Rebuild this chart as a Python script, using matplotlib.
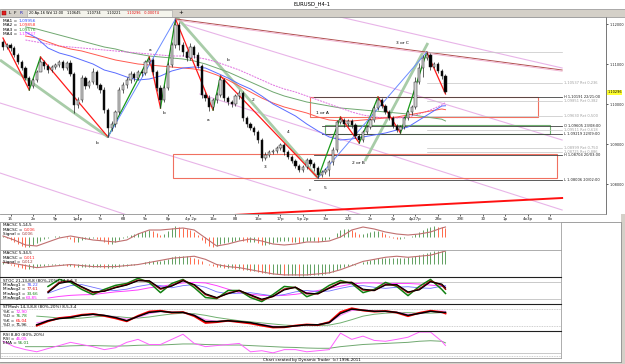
import matplotlib.pyplot as plt
import numpy as np
from matplotlib.patches import Rectangle

nan = np.nan

# ---------------- H4 candles ----------------
opens = [1.1155, 1.11425, 1.11475, 1.114, 1.11225, 1.1105, 1.109, 1.1065, 1.1045, 1.106,
         1.108, 1.1105, 1.1095, 1.1085, 1.10925, 1.10975, 1.1105, 1.109, 1.11025, 1.1075,
         1.09975, 1.101, 1.1065, 1.1045, 1.1055, 1.108, 1.10475, 1.1035, 1.0985, 1.094,
         1.095, 1.098, 1.1035, 1.10475, 1.106, 1.1075, 1.1065, 1.108, 1.10775, 1.1105,
         1.111, 1.108, 1.104, 1.101, 1.104, 1.10975, 1.11475, 1.11975, 1.11475, 1.113,
         1.1115, 1.11425, 1.11225, 1.1095, 1.10225, 1.1015, 1.09925, 1.101, 1.10225, 1.106,
         1.1015, 1.1005, 1.1, 1.102, 1.10275, 1.0965, 1.095, 1.094, 1.093, 1.091,
         1.0865, 1.08725, 1.088, 1.08825, 1.089, 1.08975, 1.088, 1.08675, 1.08575, 1.0845,
         1.0835, 1.08425, 1.086, 1.085, 1.084, 1.08225, 1.083, 1.0835, 1.0855, 1.0885,
         1.0955, 1.096, 1.095, 1.09575, 1.09475, 1.092, 1.091, 1.093, 1.09425, 1.096,
         1.099, 1.101, 1.0995, 1.098, 1.0965, 1.0945, 1.0935, 1.09425, 1.0965, 1.098,
         1.09925, 1.1055, 1.109, 1.1115, 1.11225, 1.10925, 1.11, 1.10825, 1.107]
highs = [1.116, 1.11525, 1.11525, 1.1145, 1.11275, 1.111, 1.1095, 1.107, 1.1065, 1.1085,
         1.11175, 1.111, 1.11, 1.10975, 1.11025, 1.111, 1.111, 1.11075, 1.111, 1.108,
         1.10175, 1.10725, 1.107, 1.106, 1.109, 1.1085, 1.10525, 1.10425, 1.099, 1.09575,
         1.0985, 1.10425, 1.1055, 1.10675, 1.10825, 1.108, 1.1085, 1.10875, 1.111, 1.11175,
         1.1115, 1.1085, 1.10475, 1.10475, 1.1105, 1.1155, 1.12125, 1.1205, 1.1155, 1.1135,
         1.11525, 1.11475, 1.113, 1.11, 1.103, 1.10225, 1.1015, 1.103, 1.107, 1.1065,
         1.102, 1.101, 1.1025, 1.1035, 1.10325, 1.097, 1.0955, 1.0945, 1.0935, 1.0915,
         1.088, 1.0885, 1.08875, 1.0895, 1.09025, 1.09025, 1.0885, 1.08725, 1.08625, 1.085,
         1.08475, 1.0865, 1.0865, 1.0855, 1.0845, 1.0835, 1.084, 1.086, 1.08925, 1.096,
         1.09675, 1.0965, 1.09625, 1.09625, 1.09525, 1.0925, 1.0935, 1.09475, 1.0965, 1.09975,
         1.10175, 1.1015, 1.1, 1.0985, 1.097, 1.095, 1.09475, 1.097, 1.0985, 1.09975,
         1.10675, 1.11025, 1.11225, 1.113, 1.11275, 1.1105, 1.1105, 1.10875, 1.1075]
lows = [1.1135, 1.11375, 1.11325, 1.11175, 1.11, 1.1085, 1.106, 1.1035, 1.104, 1.1055,
        1.11, 1.10875, 1.10775, 1.108, 1.10875, 1.10925, 1.1085, 1.1085, 1.107, 1.09775,
        1.099, 1.1005, 1.10375, 1.104, 1.105, 1.104, 1.10275, 1.09775, 1.09175, 1.09325,
        1.09425, 1.0975, 1.10275, 1.104, 1.10525, 1.10575, 1.106, 1.107, 1.10725, 1.11,
        1.10725, 1.10325, 1.099, 1.1005, 1.1035, 1.10925, 1.114, 1.1135, 1.112, 1.11075,
        1.111, 1.1115, 1.109, 1.1015, 1.10075, 1.09825, 1.0985, 1.10025, 1.10175, 1.10075,
        1.09975, 1.09925, 1.0995, 1.10125, 1.09575, 1.09425, 1.0935, 1.09225, 1.09025, 1.08575,
        1.086, 1.08675, 1.0875, 1.08775, 1.0885, 1.08725, 1.08625, 1.08525, 1.084, 1.083,
        1.083, 1.08375, 1.0845, 1.08325, 1.0815, 1.08175, 1.0825, 1.082, 1.08475, 1.088,
        1.095, 1.09425, 1.0945, 1.094, 1.0915, 1.09025, 1.0905, 1.0925, 1.09375, 1.0955,
        1.0985, 1.099, 1.0975, 1.096, 1.094, 1.093, 1.09275, 1.09375, 1.096, 1.09725,
        1.09875, 1.105, 1.10675, 1.111, 1.1085, 1.109, 1.10775, 1.10625, 1.10275]
closes = [1.11425, 1.11475, 1.114, 1.11225, 1.1105, 1.109, 1.1065, 1.1045, 1.106, 1.108,
          1.1105, 1.1095, 1.1085, 1.10925, 1.10975, 1.1105, 1.109, 1.11025, 1.1075, 1.09975,
          1.101, 1.1065, 1.1045, 1.1055, 1.108, 1.10475, 1.1035, 1.0985, 1.094, 1.095,
          1.098, 1.1035, 1.10475, 1.106, 1.1075, 1.1065, 1.108, 1.10775, 1.1105, 1.111,
          1.108, 1.104, 1.101, 1.104, 1.10975, 1.11475, 1.11975, 1.11475, 1.113, 1.1115,
          1.11425, 1.11225, 1.1095, 1.10225, 1.1015, 1.09925, 1.101, 1.10225, 1.106, 1.1015,
          1.1005, 1.1, 1.102, 1.10275, 1.0965, 1.095, 1.094, 1.093, 1.091, 1.0865,
          1.08725, 1.088, 1.08825, 1.089, 1.08975, 1.088, 1.08675, 1.08575, 1.0845, 1.0835,
          1.08425, 1.086, 1.085, 1.084, 1.08225, 1.083, 1.0835, 1.0855, 1.0885, 1.0955,
          1.096, 1.095, 1.09575, 1.09475, 1.092, 1.091, 1.093, 1.09425, 1.096, 1.099,
          1.101, 1.0995, 1.098, 1.0965, 1.0945, 1.0935, 1.09425, 1.0965, 1.098, 1.09925,
          1.1055, 1.109, 1.1115, 1.11225, 1.10925, 1.11, 1.10825, 1.107, 1.10296]

# moving averages / oscillator lines, sampled every 3rd candle
line_idx = list(range(0, 118, 3)) + [118]
ma1 = [nan, nan, 1.118, 1.1165, 1.114, 1.11275, 1.112, 1.111, 1.11, 1.1085, 1.10775, 1.10675, 1.106,
       1.10625, 1.107, 1.10825, 1.109, 1.10925, 1.109, 1.10775, 1.1065, 1.105, 1.10375, 1.102, 1.1,
       1.0985, 1.097, 1.095, 1.09325, 1.09175, 1.091, 1.09125, 1.09175, 1.09225, 1.09275, 1.0935,
       1.09425, 1.096, 1.09775, 1.0995, 1.09956]
ma2 = [nan, nan, 1.117, 1.1165, 1.1155, 1.1145, 1.11375, 1.11325, 1.1125, 1.11175, 1.111, 1.1105, 1.11,
       1.10975, 1.1095, 1.10925, 1.109, 1.10875, 1.10825, 1.10725, 1.106, 1.1045, 1.103, 1.1015, 1.10025,
       1.09925, 1.0985, 1.09775, 1.09675, 1.096, 1.09575, 1.09575, 1.096, 1.09625, 1.0965, 1.09675,
       1.09725, 1.09775, 1.09825, 1.09875, 1.09858]
ma3 = [nan, nan, 1.11925, 1.11875, 1.118, 1.11725, 1.1165, 1.11575, 1.115, 1.11425, 1.11375, 1.113,
       1.1125, 1.112, 1.11175, 1.1115, 1.11125, 1.11075, 1.11, 1.109, 1.108, 1.10675, 1.1055, 1.10425,
       1.103, 1.102, 1.10125, 1.1005, 1.1, 1.0995, 1.099, 1.09875, 1.0985, 1.09825, 1.098, 1.09775,
       1.0975, 1.097, 1.0966, 1.0962, 1.09576]
ma4 = [nan, nan, 1.116, 1.1155, 1.115, 1.1145, 1.11425, 1.114, 1.11375, 1.1135, 1.11325, 1.113,
       1.11275, 1.1125, 1.11225, 1.112, 1.112, 1.11175, 1.11125, 1.1105, 1.1095, 1.1085, 1.10725,
       1.106, 1.10475, 1.10375, 1.103, 1.102, 1.101, 1.1, 1.099, 1.098, 1.09725, 1.09675, 1.0965,
       1.0965, 1.09675, 1.0975, 1.0985, 1.09975, 1.10037]
ma_texts = ['1,09956', '1,09858', '1,09576', '1,10037']

macd1_hist = [0.0006, -0.0006, -0.0018, -0.003, -0.0042, -0.0054, -0.006, -0.006, -0.0048, -0.0036,
              -0.0024, -0.0012, -0.0006, 0.0, 0.0006, 0.0006, 0.0, -0.0006, -0.0012, -0.003,
              -0.003, -0.0018, -0.0012, -0.0012, -0.0006, -0.0012, -0.0018, -0.003, -0.0042, -0.0042,
              -0.003, -0.0018, -0.0006, 0.0006, 0.0012, 0.0018, 0.0024, 0.003, 0.0036, 0.0042,
              0.0036, 0.0024, 0.0012, 0.0018, 0.0036, 0.0054, 0.0066, 0.006, 0.0054, 0.0048,
              0.0042, 0.003, 0.0012, -0.0018, -0.0036, -0.0054, -0.006, -0.0054, -0.0042, -0.0036,
              -0.003, -0.003, -0.0024, -0.0018, -0.0024, -0.003, -0.003, -0.003, -0.0036, -0.0048,
              -0.0048, -0.0042, -0.0036, -0.003, -0.0024, -0.0024, -0.0024, -0.003, -0.003, -0.0036,
              -0.003, -0.0024, -0.0024, -0.0024, -0.003, -0.0024, -0.0018, -0.0012, 0.0, 0.0024,
              0.0042, 0.0048, 0.0048, 0.0042, 0.003, 0.0018, 0.0018, 0.0024, 0.003, 0.0036,
              0.0036, 0.003, 0.0018, 0.0006, -0.0006, -0.0012, -0.0012, -0.0006, 0.0, 0.0006,
              0.0018, 0.003, 0.0042, 0.0054, 0.006, 0.0066, 0.0063, 0.006, 0.0057]
macd1_sig = [0.0006, -0.0018, -0.0048, -0.0054, -0.003, -0.0006, 0.0006, -0.0006, -0.0018, -0.0024,
             -0.003, -0.0018, 0.0018, 0.0042, 0.0042, 0.0048, 0.0054, 0.0042, -0.0006, -0.0054,
             -0.0042, -0.0024, -0.0012, -0.0024, -0.0042, -0.0048, -0.0042, -0.003, -0.003, -0.0024,
             0.0, 0.0042, 0.006, 0.0048, 0.003, 0.0018, 0.0012, 0.0018, 0.003, 0.0054, 0.006]

macd2_hist = [0.0009, 0.0, -0.0009, -0.0018, -0.0027, -0.0036, -0.0045, -0.0045, -0.0036, -0.0027,
              -0.0018, -0.0018, -0.0009, -0.0009, -0.0009, -0.0009, -0.0009, -0.0018, -0.0018, -0.0027,
              -0.0027, -0.0027, -0.0027, -0.0027, -0.0027, -0.0027, -0.0027, -0.0036, -0.0036, -0.0036,
              -0.0027, -0.0027, -0.0018, -0.0018, -0.0009, -0.0009, 0.0, 0.0, 0.0009, 0.0018,
              0.0018, 0.0018, 0.0018, 0.0027, 0.0036, 0.0054, 0.0063, 0.0063, 0.0063, 0.0063,
              0.0054, 0.0045, 0.0036, 0.0018, 0.0, -0.0009, -0.0018, -0.0027, -0.0027, -0.0036,
              -0.0036, -0.0036, -0.0045, -0.0045, -0.0054, -0.0054, -0.0063, -0.0063, -0.0072, -0.0081,
              -0.0081, -0.009, -0.009, -0.009, -0.009, -0.0099, -0.0099, -0.0099, -0.0099, -0.0108,
              -0.0108, -0.0099, -0.0099, -0.0099, -0.0099, -0.0099, -0.009, -0.0081, -0.0072, -0.0054,
              -0.0036, -0.0027, -0.0018, -0.0009, -0.0009, 0.0, 0.0009, 0.0018, 0.0027, 0.0036,
              0.0045, 0.0045, 0.0045, 0.0045, 0.0045, 0.0045, 0.0045, 0.0045, 0.0054, 0.0054,
              0.0063, 0.0072, 0.0081, 0.009, 0.0099, 0.0108, 0.0108, 0.0108, 0.0108]
macd2_sig = [0.0009, 0.0, -0.0018, -0.0036, -0.0027, -0.0018, -0.0009, -0.0018, -0.0027, -0.0027,
             -0.0027, -0.0018, -0.0009, 0.0009, 0.0027, 0.0045, 0.0054, 0.0063, 0.0036, -0.0009,
             -0.0027, -0.0036, -0.0054, -0.0072, -0.009, -0.0099, -0.0099, -0.0099, -0.009, -0.0081,
             -0.0054, -0.0018, 0.0018, 0.0036, 0.0054, 0.0063, 0.0054, 0.0063, 0.0072, 0.0099, 0.0108]

stoc_green = [nan, nan, nan, nan, 65, 91, 80, 54, 35, 54, 69, 76, 95, 80, 42, 76, 91, 61, 24, 20,
              50, 50, 24, 9, 35, 65, 61, 27, 42, 69, 87, 76, 42, 54, 80, 65, 31, 65, 91, 54, 39]
stoc_maroon = [nan, nan, nan, nan, 45, 80, 85, 62, 42, 48, 62, 72, 88, 85, 55, 68, 88, 70, 35, 22,
               40, 50, 32, 15, 28, 55, 62, 38, 38, 60, 80, 80, 52, 50, 72, 70, 42, 55, 85, 70, 55]
stoc_black = [nan, nan, nan, nan, 42, 76, 84, 64, 45, 47, 60, 70, 86, 86, 58, 66, 86, 72, 38, 24,
              38, 50, 34, 18, 28, 52, 62, 40, 38, 58, 78, 80, 55, 50, 70, 72, 45, 52, 82, 74, 60]
stoc_blue = [nan, nan, nan, nan, 40, 55, 68, 72, 62, 52, 50, 55, 65, 72, 68, 60, 68, 72, 62, 45,
             38, 40, 42, 36, 30, 35, 45, 50, 46, 48, 58, 66, 68, 62, 58, 62, 64, 60, 58, 66, 68]
stoc_magenta = [nan, nan, nan, nan, 22, 28, 32, 34, 35, 40, 45, 48, 52, 60, 65, 72, 78, 80, 78, 68,
                55, 42, 36, 32, 30, 32, 36, 42, 50, 58, 66, 74, 78, 78, 76, 76, 76, 74, 70, 66, 64]

stm_black = [nan, nan, nan, 23, 38, 46, 50, 58, 62, 58, 50, 38, 54, 69, 73, 69, 69, 58, 35, 35,
             38, 35, 31, 23, 15, 15, 19, 23, 23, 31, 65, 81, 77, 73, 73, 69, 58, 65, 73, 69, 69]
stm_red = [nan, nan, nan, 20, 36, 48, 52, 60, 63, 56, 47, 36, 56, 72, 75, 68, 70, 55, 30, 33,
           38, 33, 28, 20, 13, 14, 20, 24, 22, 33, 70, 84, 76, 72, 74, 68, 55, 67, 75, 70, 65]
stm_green = [nan, nan, nan, 55, 52, 48, 46, 48, 52, 55, 54, 50, 48, 52, 58, 63, 66, 64, 58, 50,
             44, 38, 34, 30, 26, 22, 20, 20, 20, 22, 30, 42, 55, 62, 66, 68, 68, 66, 66, 68, 70]
stm_pink = [nan, nan, nan, 30, 40, 48, 54, 58, 60, 58, 52, 44, 50, 64, 72, 70, 68, 60, 42, 36,
            36, 34, 30, 25, 18, 16, 18, 22, 24, 30, 58, 76, 78, 75, 72, 70, 62, 64, 72, 74, 73]

rsi = [62, 42, 31, 23, 35, 46, 58, 50, 42, 31, 38, 58, 69, 50, 50, 69, 88, 54, 42, 46,
       50, 54, 23, 27, 19, 31, 31, 23, 27, 31, 92, 69, 81, 65, 62, 69, 77, 96, 96, 62, 46]
rsi_ema = [nan, nan, 42, 42, 42, 43, 45, 46, 46, 45, 44, 45, 47, 48, 48, 50, 52, 52, 50, 49,
           48, 48, 46, 44, 42, 40, 39, 37, 36, 36, 42, 46, 50, 52, 54, 56, 58, 62, 64, 62, 56]

# zigzag pivots (candle index, price)
zigzag = [(0, 1.1165), (7, 1.1035), (10, 1.11175), (28, 1.09175), (39, 1.11175), (42, 1.099),
          (46, 1.12125), (56, 1.0985), (58, 1.107), (84, 1.0815), (90, 1.09675), (95, 1.09025),
          (100, 1.10175), (106, 1.09275), (113, 1.113), (118, 1.1025)]
blue_legs = [((28, 1.09175), (46, 1.12125)), ((84, 1.0815), (113, 1.113))]
pink_lines = [((-0.8, 1.10025), (96, 1.0722)), ((-0.8, 1.08275), (34.7, 1.07175)),
              ((52.5, 1.1025), (149.1, 1.0735)), ((47.2, 1.12025), (149.1, 1.091)),
              ((89.9, 1.12175), (149.1, 1.109))]
green_bands = [((-0.8, 1.111), (28, 1.09175)), ((46.1, 1.122), (84, 1.0815)),
               ((96.5, 1.08575), (113.3, 1.11525))]
brown_line = ((46.1, 1.12125), (149.1, 1.1085))
red_base = ((51.2, 1.07175), (149.1, 1.0765))

# boxes: (i0, i1, p0, p1)
box_a = (81.9, 142.7, 1.09675, 1.10175)
box_g = (85.9, 145.9, 1.0925, 1.09475)
box_b = (45.3, 147.7, 1.0815, 1.0875)

level_prices = [1.113, 1.10525, 1.10175, 1.10075, 1.097, 1.0945, 1.0935, 1.0925, 1.089, 1.088, 1.08725, 1.081]
level_starts = [113, 113, 83, 113, 113, 85, 113, 85, 113, 113, 83, 83]
level_texts = ['', '1,10537 Ret 0,236', 'H 1,10191 22/21:00', '1,09851 Ret 0,382', '1,09630 Ret 0,500',
               'O 1,09605 23/08:00', '1,09511 Ret 0,618', 'L 1,09219 22/09:00', '1,08999 Ret 0,750',
               '1,08725 Ret 0,886', 'H 1,08704 20/03:00', 'L 1,08006 20/02:00']
level_dark = [False, False, True, False, False, True, False, True, False, False, True, True]

wave_labels = [(25.1, 1.09025, 'b'), (39.2, 1.1135, 'a'), (42.9, 1.09775, 'b'), (54.7, 1.096, 'a'),
               (60, 1.111, 'b'), (60, 1.101, '1'), (66.7, 1.101, '2'), (69.9, 1.08425, '3'),
               (76, 1.093, '4'), (81.9, 1.0785, 'c'), (85.9, 1.079, '5'),
               (85.1, 1.09775, '1 or A'), (94.7, 1.08525, '2 or B'), (106.4, 1.11525, '3 or C')]

price_ticks = [1.08, 1.09, 1.10, 1.11, 1.12]
date_idx = list(range(2, 147, 6))
date_labels = ['15', '2o', '9p', '1p4p', '7o', '6B', '9o', '8p', '4p 2p', '16o', '8B', '16o', '17p',
               '5p 2p', '3io', '22E', '2o', '2p', '4p27p', '28o', '29E', '30', '1p', '4o3p', '8o']

bar_info = ['20-Ap-16 Wd 12:00', '1,10645', '1,10734', '1,10221', '1,10296', '-0,00074']

# ---------------- layout helpers ----------------
W, H = 625, 364


def box(x0, y0, x1, y1):
    return [x0 / W, 1 - y1 / H, (x1 - x0) / W, (y1 - y0) / H]


fig = plt.figure(figsize=(6.25, 3.64), dpi=100)
fig.patch.set_facecolor('white')

bg = fig.add_axes([0, 0, 1, 1], zorder=-5)
bg.set_xlim(0, W)
bg.set_ylim(H, 0)
bg.axis('off')
bg.add_patch(Rectangle((0, 9), W, 8, fc='#d4d0c8', ec='#909090', lw=0.5))
bg.add_patch(Rectangle((621, 214), 4, 150, fc='#d4d0c8', ec='none'))
bg.add_patch(Rectangle((0, 362), W, 2, fc='#d4d0c8', ec='none'))
bg.add_patch(Rectangle((2, 11), 4, 4, fc='#e02020', ec='#800000', lw=0.3))
bg.add_patch(Rectangle((27, 10), 145, 6.5, fc='#f4f4ec', ec='#a0a0a0', lw=0.4))
bg.plot([561, 621, 621], [222, 222, 362], color='#909090', lw=0.6)
bg.plot([0, 621], [362, 362], color='#909090', lw=0.6)
fig.text(312 / W, 1 - 4.5 / H, 'EURUSD_H4-1', ha='center', va='center', fontsize=3.8)
fig.text(9 / W, 1 - 13 / H, 'L  F', ha='left', va='center', fontsize=3.2)
fig.text(19.5 / W, 1 - 13 / H, 'R', ha='left', va='center', fontsize=3.2, color='#2020c0')
for xp, tx, col in zip([29, 67, 87, 107, 127, 144], bar_info,
                       ['#000000', '#000000', '#000000', '#000000', '#e00000', '#e00000']):
    fig.text(xp / W, 1 - 13.2 / H, tx, ha='left', va='center', fontsize=2.5, color=col)
fig.text(181 / W, 1 - 13 / H, '+', ha='center', va='center', fontsize=4)
fig.text(312 / W, 1 - 360.5 / H, 'Chart created by Dynamic Trader  (c) 1996-2011',
         ha='center', va='center', fontsize=2.9)

# ---------------- price panel ----------------
ax = fig.add_axes(box(0, 17, 606, 214))
ax.set_xlim(-0.8, 160.8)
ax.set_ylim(1.0725, 1.12175)
ax.spines['left'].set_visible(False)
ax.spines['top'].set_color('#909090')
ax.spines['bottom'].set_color('#909090')
ax.spines['right'].set_color('#606060')
for s in ax.spines.values():
    s.set_linewidth(0.6)

idx = np.arange(len(closes))
o = np.array(opens)
c = np.array(closes)

for p, q in pink_lines:
    ax.plot([p[0], q[0]], [p[1], q[1]], color='#e8b4e8', lw=0.8, zorder=1)
for p, q in green_bands:
    ax.plot([p[0], q[0]], [p[1], q[1]], color='#a8cca8', lw=2.0, zorder=1, solid_capstyle='butt')
ax.plot([brown_line[0][0], brown_line[1][0]], [brown_line[0][1], brown_line[1][1]],
        color='#b05050', lw=0.7, zorder=2)
ax.plot([brown_line[0][0], brown_line[1][0]], [brown_line[0][1] - 0.0003, brown_line[1][1] - 0.0003],
        color='#f0b0d0', lw=0.6, zorder=2)
ax.plot([red_base[0][0], red_base[1][0]], [red_base[0][1], red_base[1][1]], color='#ff1010', lw=1.4, zorder=2)

for (i0, i1, p0, p1), col in [(box_a, '#f07060'), (box_b, '#f07060'), (box_g, '#70b070')]:
    ax.add_patch(Rectangle((i0, p0), i1 - i0, p1 - p0, fill=False, ec=col, lw=0.8, zorder=2))

for pr, st, tx, dk in zip(level_prices, level_starts, level_texts, level_dark):
    ax.plot([st, 149], [pr, pr], color='#404040' if dk else '#c4c4c4', lw=0.6 if dk else 0.5, zorder=2)
    if tx:
        ax.text(149.6, pr, tx, fontsize=2.6, va='center', ha='left',
                color='#202020' if dk else '#a0a0a0')

ax.plot(line_idx, ma3, color='#70a870', lw=0.7, zorder=3)
ax.plot(line_idx, ma4, color='#e070e0', lw=0.7, ls=(0, (2, 1)), zorder=3)
ax.plot(line_idx, ma2, color='#ff5a50', lw=0.7, zorder=3)
ax.plot(line_idx, ma1, color='#5a6cff', lw=0.7, zorder=3)

for k in range(len(zigzag) - 1):
    (i0, p0), (i1, p1) = zigzag[k], zigzag[k + 1]
    ax.plot([i0, i1], [p0, p1], color='#ff1a1a' if p1 < p0 else '#1a9a1a', lw=0.9, zorder=4)
for p, q in blue_legs:
    ax.plot([p[0], q[0]], [p[1], q[1]], color='#6a8cff', lw=0.7, zorder=4)

ax.vlines(idx, lows, highs, color='#202020', lw=0.5, zorder=5)
up = c >= o
ax.bar(idx, np.abs(c - o), bottom=np.minimum(o, c), width=0.62,
       color=np.where(up, '#d4d4d4', '#000000'), edgecolor='#202020', lw=0.35, zorder=6)

for i, pr, tx in wave_labels:
    ax.text(i, pr, tx, fontsize=3.2, ha='center', va='center', zorder=7)

ax.yaxis.tick_right()
ax.set_yticks(price_ticks)
ax.set_yticklabels([('%.5f' % v).replace('.', ',') for v in price_ticks])
ax.tick_params(axis='y', length=1.5, width=0.5, labelsize=2.5, pad=1, colors='#202020')
ax.set_xticks(date_idx)
ax.set_xticklabels(date_labels)
ax.tick_params(axis='x', length=1.5, width=0.5, labelsize=2.9, pad=0.5, colors='#202020')
ax.text(1.002, closes[-1], ('%.5f' % closes[-1]).replace('.', ','), transform=ax.get_yaxis_transform(),
        fontsize=2.5, va='center', ha='left',
        bbox=dict(boxstyle='square,pad=0.15', fc='#ffff30', ec='none'))
ma_cols = ['#3050ff', '#ff3030', '#30a030', '#ff40ff']
for k in range(4):
    t = ax.annotate('MA%d =' % (k + 1), xy=(0, 1), xycoords='axes fraction', xytext=(3, -2 - 4.4 * k),
                    textcoords='offset pixels', fontsize=3.1, va='top', zorder=8,
                    bbox=dict(boxstyle='square,pad=0.05', fc='white', ec='none'))
    ax.annotate(ma_texts[k], xy=(1, 0.5), xycoords=t, xytext=(1, 0), textcoords='offset pixels',
                fontsize=3.1, va='center', color=ma_cols[k], zorder=8)


# ---------------- indicator panels ----------------
def sub(y0, y1, ylim, dark_top=False):
    a = fig.add_axes(box(0, y0, 561, y1))
    a.set_xlim(-0.8, 148.8)
    a.set_ylim(*ylim)
    a.set_xticks([])
    a.set_yticks([])
    for s in a.spines.values():
        s.set_color('#a0a0a0')
        s.set_linewidth(0.6)
    if dark_top:
        a.spines['top'].set_color('#202020')
        a.spines['top'].set_linestyle((0, (2, 1)))
        a.spines['top'].set_linewidth(0.8)
    return a


def panel_text(a, head, rows):
    a.annotate(head, xy=(0, 1), xycoords='axes fraction', xytext=(3, -1.5),
               textcoords='offset pixels', fontsize=3.0, va='top')
    for k, (lab, val, col) in enumerate(rows):
        t = a.annotate(lab, xy=(0, 1), xycoords='axes fraction', xytext=(3, -6 - 4.4 * k),
                       textcoords='offset pixels', fontsize=3.0, va='top')
        a.annotate(val, xy=(1, 0.5), xycoords=t, xytext=(1, 0), textcoords='offset pixels',
                   fontsize=3.0, va='center', color=col)


def hist_colors(vals):
    out = ['#60a060']
    for k in range(1, len(vals)):
        out.append('#60a060' if vals[k] >= vals[k - 1] else '#ff6a4a')
    return out


m1 = sub(222, 250, (-0.0078, 0.009))
m1.vlines(idx, 0, macd1_hist, colors=hist_colors(macd1_hist), lw=0.7)
m1.plot(line_idx, macd1_sig, color='#c07070', lw=0.8)
panel_text(m1, 'MACSC 5,14,5', [('MACSC =', '0,006', '#ff2020'), ('Signal =', '0,006', '#a04040')])

m2 = sub(250, 277, (-0.0117, 0.0117))
m2.vlines(idx, 0, macd2_hist, colors=hist_colors(macd2_hist), lw=0.7)
m2.plot(line_idx, macd2_sig, color='#c07070', lw=0.8)
panel_text(m2, 'MACSC 5,34,5', [('MACSC =', '0,011', '#ff2020'), ('Signal =', '0,012', '#a04040')])

s1 = sub(277, 304, (0, 100), dark_top=True)
s1.axhline(80, color='#c0c0c0', lw=0.6)
s1.axhline(20, color='#c0c0c0', lw=0.6)
s1.plot(line_idx, stoc_magenta, color='#ff40ff', lw=0.7)
s1.plot(line_idx, stoc_blue, color='#7070ff', lw=0.6)
s1.plot(line_idx, stoc_green, color='#108010', lw=1.1)
s1.plot(line_idx, stoc_maroon, color='#900000', lw=1.1)
s1.plot(line_idx, stoc_black, color='#000000', lw=0.8)
panel_text(s1, 'STOC 21,13,8,8 (80%-20%) 14,8,5,3',
           [('MinAvg1 =', '78,22', '#4040ff'), ('MinAvg2 =', '77,61', '#d00000'),
            ('MinAvg3 =', '33,66', '#108010'), ('MinAvg4 =', '63,85', '#ff00ff')])

s2 = sub(304, 331, (0, 100), dark_top=True)
s2.axhline(80, color='#c0c0c0', lw=0.6, ls=(0, (1, 1)))
s2.axhline(20, color='#c0c0c0', lw=0.6, ls=(0, (1, 1)))
s2.plot(line_idx, stm_green, color='#70b070', lw=0.7)
s2.plot(line_idx, stm_pink, color='#ff80ff', lw=0.7)
s2.plot(line_idx, stm_red, color='#ff0000', lw=1.4)
s2.plot(line_idx, stm_black, color='#000000', lw=1.1)
panel_text(s2, 'STMosh 14,3,8,8 (80%-20%) 8,5,3,4',
           [('%K =', '72,90', '#ff00ff'), ('%D =', '76,78', '#108010'),
            ('%K =', '65,04', '#ff0000'), ('%D =', '71,96', '#000000')])

r1 = sub(331, 358, (0, 100), dark_top=True)
r1.axhline(20, color='#c0c0c0', lw=0.6)
r1.axhline(8, color='#c0c0c0', lw=0.6, ls=(0, (1, 1)))
r1.plot(line_idx, rsi_ema, color='#70a870', lw=0.7)
r1.plot(line_idx, rsi, color='#ff60ff', lw=0.7)
panel_text(r1, 'RSI 8,80 (80%-20%)', [('RSI =', '46,05', '#ff00ff'), ('EMA =', '56,01', '#108010')])

fig.savefig('out.png', dpi=100, facecolor='white')
